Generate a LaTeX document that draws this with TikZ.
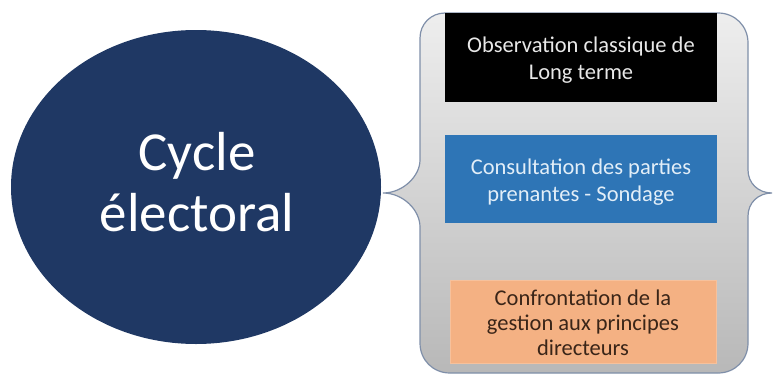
\documentclass[tikz,border=0pt]{standalone}
\usepackage{fontspec}
\setmainfont{Carlito}
\usetikzlibrary{shapes.geometric}
\definecolor{navy}{HTML}{1F3864}
\definecolor{braceline}{HTML}{7F8FA9}
\definecolor{bracetop}{HTML}{EEEEEE}
\definecolor{bracebot}{HTML}{B8B8B8}
\definecolor{bluebox}{HTML}{2E75B6}
\definecolor{bluetext}{HTML}{E2EEF8}
\definecolor{orangebox}{HTML}{F4B183}
\definecolor{orangetext}{HTML}{3A2518}
\definecolor{greytext}{HTML}{E8E8E8}
\tikzset{
  itembox/.style={rectangle, inner sep=0pt, minimum width=272pt, minimum height=88pt},
  itemtext/.style={inner sep=0pt, align=center, font=\fontsize{22.5}{27}\selectfont},
}
\begin{document}
\begin{tikzpicture}[x=1pt, y=-1pt]
\useasboundingbox (0,0) rectangle (773,375);
% main ellipse
\node[ellipse, fill=navy, minimum width=370pt, minimum height=314pt, inner sep=0pt] (cycle) at (196,187) {};
\node[text=white, align=center, inner sep=0pt, font=\fontsize{55}{61}\selectfont] (cycletext) at (197,182)
      {Cycle\\électoral};
% brace container
\path[draw=braceline, line width=1.2pt, top color=bracetop, bottom color=bracebot]
  (445,13) -- (718,13) .. controls (735,13) and (748,26) .. (748,43)
  -- (748,170) .. controls (748,183) and (758,193) .. (772,193)
  .. controls (758,193) and (748,203) .. (748,216)
  -- (748,343) .. controls (748,360) and (735,373) .. (718,373)
  -- (450,373) .. controls (433,373) and (420,360) .. (420,343)
  -- (420,227) .. controls (420,210) and (403,193) .. (383,193)
  .. controls (403,193) and (420,176) .. (420,160)
  -- (420,38) .. controls (420,24) and (431,13) .. (445,13) -- cycle;
\coordinate (bracetip) at (383,193);
% boxes
\node[itembox, fill=black, minimum height=89pt] (obs) at (581,57.5) {};
\node[itemtext, text=greytext] (obstext) at (581,60) {Observation classique de\\Long terme};
\node[itembox, fill=bluebox] (cons) at (581,179) {};
\node[itemtext, text=bluetext] (constext) at (581,182) {Consultation des parties\\prenantes - Sondage};
\node[itembox, fill=orangebox, draw=orangebox!80!white, minimum width=266pt, minimum height=83pt] (conf) at (583,321.5) {};
\node[itemtext, text=orangetext, font=\fontsize{22.5}{25}\selectfont] (conftext) at (583,323)
  {Confrontation de la\\gestion aux principes\\directeurs};
\end{tikzpicture}
\end{document}
